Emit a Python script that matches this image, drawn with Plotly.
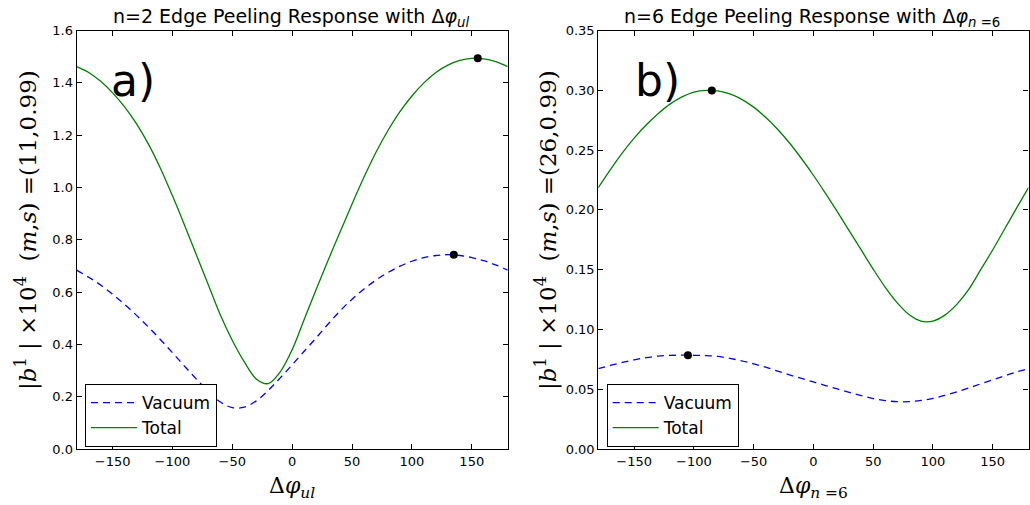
import plotly.graph_objects as go

# ---------------- data ----------------
phi = [-180, -170, -160, -150, -140, -130, -120, -110, -100, -90, -80, -70, -60,
       -50, -40, -30, -20, -10, 0, 10, 20, 30, 40, 50, 60, 70, 80, 90, 100, 110,
       120, 130, 140, 150, 160, 170, 180]

# panel a) n=2
vac_n2 = [0.684, 0.657, 0.627, 0.592, 0.553, 0.511, 0.466, 0.418, 0.368, 0.317,
          0.267, 0.219, 0.180, 0.158, 0.160, 0.184, 0.224, 0.272, 0.322, 0.374,
          0.425, 0.478, 0.528, 0.573, 0.612, 0.646, 0.675, 0.699, 0.718, 0.732,
          0.740, 0.743, 0.740, 0.732, 0.720, 0.704, 0.684]
tot_n2 = [1.462, 1.440, 1.406, 1.362, 1.308, 1.243, 1.165, 1.073, 0.968, 0.857,
          0.742, 0.627, 0.512, 0.415, 0.333, 0.268, 0.250, 0.295, 0.380, 0.495,
          0.610, 0.722, 0.830, 0.937, 1.040, 1.135, 1.218, 1.290, 1.350, 1.400,
          1.440, 1.468, 1.486, 1.494, 1.492, 1.481, 1.462]
max_n2_phi = [135, 155]
max_n2_val = [0.743, 1.494]

# panel b) n=6
vac_n6 = [0.0672, 0.0699, 0.0724, 0.0746, 0.0764, 0.0777, 0.0783, 0.0785, 0.0784,
          0.0781, 0.0774, 0.0758, 0.0738, 0.0712, 0.0684, 0.0652, 0.0620, 0.0590,
          0.0561, 0.0531, 0.0502, 0.0473, 0.0446, 0.0422, 0.0405, 0.0396, 0.0396,
          0.0406, 0.0424, 0.0448, 0.0477, 0.0510, 0.0545, 0.0578, 0.0612, 0.0645,
          0.0672]
tot_n6 = [0.2186, 0.2335, 0.2475, 0.2600, 0.2710, 0.2805, 0.2885, 0.2945, 0.2985,
          0.3000, 0.2995, 0.2970, 0.2925, 0.2860, 0.2775, 0.2675, 0.2560, 0.2430,
          0.2290, 0.2140, 0.1985, 0.1825, 0.1665, 0.1505, 0.1355, 0.1225, 0.1125,
          0.1070, 0.1070, 0.1120, 0.1210, 0.1335, 0.1500, 0.1665, 0.1840, 0.2015,
          0.2186]
max_n6_phi = [-105, -85]
max_n6_val = [0.0785, 0.2998]

W, H = 1030, 505
BLUE = "#0000ff"
GREEN = "#008000"
SANS = "DejaVu Sans"
SERIF = "DejaVu Serif"


def px(x):
    return x / W


def py(y):
    return 1 - y / H


fig = go.Figure()

# panel a
fig.add_trace(go.Scatter(x=phi, y=vac_n2, mode="lines", name="Vacuum",
                         line=dict(color=BLUE, width=1.3, dash="7px,5px", shape="spline"),
                         xaxis="x", yaxis="y", legend="legend"))
fig.add_trace(go.Scatter(x=phi, y=tot_n2, mode="lines", name="Total",
                         line=dict(color=GREEN, width=1.3, shape="spline"),
                         xaxis="x", yaxis="y", legend="legend"))
fig.add_trace(go.Scatter(x=max_n2_phi, y=max_n2_val, mode="markers", showlegend=False,
                         marker=dict(color="black", size=8),
                         xaxis="x", yaxis="y"))
# panel b
fig.add_trace(go.Scatter(x=phi, y=vac_n6, mode="lines", name="Vacuum",
                         line=dict(color=BLUE, width=1.3, dash="7px,5px", shape="spline"),
                         xaxis="x2", yaxis="y2", legend="legend2"))
fig.add_trace(go.Scatter(x=phi, y=tot_n6, mode="lines", name="Total",
                         line=dict(color=GREEN, width=1.3, shape="spline"),
                         xaxis="x2", yaxis="y2", legend="legend2"))
fig.add_trace(go.Scatter(x=max_n6_phi, y=max_n6_val, mode="markers", showlegend=False,
                         marker=dict(color="black", size=8),
                         xaxis="x2", yaxis="y2"))

axis_common = dict(showline=True, linecolor="black", linewidth=1.2, mirror="ticks",
                   ticks="inside", ticklen=5, tickcolor="black", tickwidth=1,
                   showgrid=False, zeroline=False, automargin=False,
                   tickfont=dict(family=SANS, size=13, color="black"))

xdom1 = [px(76.7), px(507.7)]
xdom2 = [px(598.3), px(1028.5)]
ydom = [py(449), py(30.6)]

legend_common = dict(xanchor="left", yanchor="top", bordercolor="black", borderwidth=1,
                     bgcolor="white", itemwidth=46, tracegroupgap=0,
                     font=dict(family=SANS, size=17, color="black"))

fig.update_layout(
    template="none",
    width=W, height=H,
    margin=dict(l=0, r=0, t=0, b=0, pad=0, autoexpand=False),
    paper_bgcolor="white", plot_bgcolor="white",
    xaxis=dict(domain=xdom1, range=[-180, 180], tickvals=[-150, -100, -50, 0, 50, 100, 150],
               anchor="y", **axis_common),
    yaxis=dict(domain=ydom, range=[0, 1.6], dtick=0.2, tick0=0, tickformat=".1f",
               anchor="x", **axis_common),
    xaxis2=dict(domain=xdom2, range=[-180, 180], tickvals=[-150, -100, -50, 0, 50, 100, 150],
                anchor="y2", **axis_common),
    yaxis2=dict(domain=ydom, range=[0, 0.35], dtick=0.05, tick0=0, tickformat=".2f",
                anchor="x2", **axis_common),
    legend=dict(x=px(85), y=py(384), **legend_common),
    legend2=dict(x=px(606.7), y=py(384), **legend_common),
    showlegend=True,
)

ann = []
# titles
ann.append(dict(text="n=2 Edge Peeling Response with Δ<i>φ</i><sub><i>ul</i></sub>",
                x=px(291), y=py(17), font=dict(family=SANS, size=19, color="black")))
ann.append(dict(text="n=6 Edge Peeling Response with Δ<i>φ</i><sub><i>n</i> =6</sub>",
                x=px(812), y=py(17), font=dict(family=SANS, size=19, color="black")))
# x labels
ann.append(dict(text="Δ<i>φ</i><sub><i>ul</i></sub>", x=px(292), y=py(487),
                font=dict(family=SERIF, size=22, color="black")))
ann.append(dict(text="Δ<i>φ</i><sub><i>n</i> =6</sub>", x=px(813), y=py(487),
                font=dict(family=SERIF, size=22, color="black")))
# y labels
ylab = "|<i>b</i><sup>1</sup>\u00a0|\u00a0×10<sup>4</sup>\u00a0\u00a0(<i>m</i>,<i>s</i>)\u00a0=({m},{s})"
ann.append(dict(text=ylab.format(m=11, s="0.99"), x=px(27), y=py(230), textangle=-90,
                font=dict(family=SERIF, size=23, color="black")))
ann.append(dict(text=ylab.format(m=26, s="0.99"), x=px(547), y=py(230), textangle=-90,
                font=dict(family=SERIF, size=23, color="black")))
# panel labels
ann.append(dict(text="a)", x=px(133), y=py(80), font=dict(family=SANS, size=44, color="black")))
ann.append(dict(text="b)", x=px(657), y=py(80), font=dict(family=SANS, size=44, color="black")))

for a in ann:
    a.update(xref="paper", yref="paper", showarrow=False, xanchor="center", yanchor="middle")
fig.update_layout(annotations=ann)

fig.write_html("out.html", config={"displayModeBar": False},
               post_script="document.body.style.margin='0';document.body.style.overflow='hidden';")
